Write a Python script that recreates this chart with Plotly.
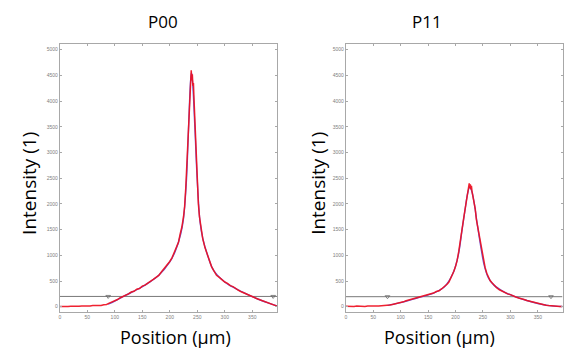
import plotly.graph_objects as go

# ---------------- data ----------------
# P00 measured profile (red)
p00_x = [0,5,10,15,20,25,30,35,40,45,50,55,60,65,70,75,80,85,90,95,100,105,110,115,120,125,130,135,140,145,
         150,155,160,165,170,175,180,185,190,195,200,204,208,212,216,219,222,225,227,229,231,233,235,236,237,
         238,239,240,241,242,243,244,245,246,248,250,252,254,257,260,264,268,272,276,280,285,290,295,300,305,
         310,315,320,325,330,335,340,345,350,355,360,365,370,375,380,385,390,395]
p00_y = [5,2,8,4,10,6,12,9,15,11,18,14,22,18,26,24,38,45,70,90,125,140,175,195,230,250,285,300,340,355,
         400,420,460,490,530,570,610,680,740,800,880,950,1050,1150,1260,1420,1550,1750,1950,2300,2750,3200,3700,4000,4250,
         4450,4600,4400,4520,4300,4350,4050,3800,3500,2900,2400,2000,1750,1500,1320,1150,1020,880,780,700,610,570,520,480,455,
         410,390,350,320,290,270,245,225,200,175,150,130,110,90,70,50,30,12]
# P00 fit (blue)
p00_fit_x = [88,100,120,140,160,180,200,210,220,225,230,233,236,238,239.5,241,243,246,250,255,260,270,280,300,320,340,360,380,395]
p00_fit_y = [50,110,225,330,455,610,870,1080,1420,1720,2400,3150,4000,4420,4550,4420,4100,3400,2450,1650,1330,960,700,480,350,245,150,70,15]
# P00 background level (black)
p00_bg_x = [0, 88, 200, 388, 395]
p00_bg_y = [200, 200, 200, 200, 200]
p00_mark_x = [88, 388]

# P11 measured profile (red)
p11_x = [0,5,10,15,20,25,30,35,40,45,50,55,60,65,70,75,80,85,90,95,100,105,110,115,120,125,130,135,140,145,
         150,155,160,165,170,175,180,185,188,191,194,197,200,203,206,209,212,215,218,220,222,224,225,226,227,
         228,229,230,232,234,236,238,240,242,245,248,251,254,257,260,263,266,270,275,280,285,290,295,300,305,
         310,315,320,325,330,335,340,345,350,355,360,365,370,375,380,385,390,395]
p11_y = [8,3,10,5,12,7,10,6,12,9,10,14,12,18,20,26,32,45,55,68,80,95,115,130,140,160,170,185,195,215,
         225,250,265,295,310,350,390,440,480,540,600,690,780,900,1080,1330,1520,1730,1930,2080,2200,2330,2400,2300,2380,
         2280,2350,2250,2150,2000,1900,1700,1580,1450,1300,1050,880,760,650,560,510,470,420,370,330,300,280,250,235,205,
         190,170,160,140,120,105,90,75,62,50,40,30,22,15,10,6,4,3]
# P11 fit (blue)
p11_fit_x = [76,100,130,160,180,195,205,212,218,222,226,230,234,240,246,252,260,270,290,310,330,350,370,395]
p11_fit_y = [25,80,170,265,390,640,1000,1500,1930,2200,2330,2230,2020,1580,1170,820,560,420,280,190,120,62,22,3]
# P11 background level (black)
p11_bg_x = [0, 76, 200, 374, 395]
p11_bg_y = [195, 195, 195, 195, 195]
p11_mark_x = [76, 374]

titles = ["P00", "P11"]
x_ticks = [0, 50, 100, 150, 200, 250, 300, 350]
y_ticks = [0, 500, 1000, 1500, 2000, 2500, 3000, 3500, 4000, 4500, 5000]

# ---------------- figure ----------------
W, H = 564, 351
fig = go.Figure()

RED = "#ee1020"
BLUE = "#6a5cd8"
BG = "#6a6a6a"

def add_panel(xa, ya, bgx, bgy, markx, mx, my, fx, fy):
    fig.add_trace(go.Scatter(x=bgx, y=bgy, mode="lines", xaxis=xa, yaxis=ya,
                             line=dict(color=BG, width=0.9), showlegend=False))
    fig.add_trace(go.Scatter(x=markx, y=[bgy[0]] * len(markx), mode="markers", xaxis=xa, yaxis=ya,
                             marker=dict(symbol="triangle-down-open", size=4, color=BG, line=dict(width=0.8)),
                             showlegend=False))
    fig.add_trace(go.Scatter(x=fx, y=fy, mode="lines", xaxis=xa, yaxis=ya, line_shape="spline",
                             line=dict(color=BLUE, width=1.4), showlegend=False))
    fig.add_trace(go.Scatter(x=mx, y=my, mode="lines", xaxis=xa, yaxis=ya,
                             line=dict(color=RED, width=1.5), opacity=0.92, showlegend=False))

add_panel("x", "y", p00_bg_x, p00_bg_y, p00_mark_x, p00_x, p00_y, p00_fit_x, p00_fit_y)
add_panel("x2", "y2", p11_bg_x, p11_bg_y, p11_mark_x, p11_x, p11_y, p11_fit_x, p11_fit_y)

ybot = 1 - 311.7 / H
ytop = 1 - 44 / H

axis_common = dict(showgrid=False, zeroline=False, showline=True, linecolor="#a8a8a8", linewidth=1,
                   mirror="allticks", ticks="inside", ticklen=2, tickcolor="#a8a8a8",
                   tickfont=dict(size=5, color="#808080", family="Arial"))

fig.update_layout(
    width=W, height=H, margin=dict(l=0, r=0, t=0, b=0),
    paper_bgcolor="white", plot_bgcolor="white",
    xaxis=dict(domain=[59 / W, 277 / W], range=[0, 395], tickvals=x_ticks, anchor="y", **axis_common),
    yaxis=dict(domain=[ybot, ytop], range=[-97, 5110], tickvals=y_ticks, anchor="x", **axis_common),
    xaxis2=dict(domain=[346 / W, 563.5 / W], range=[0, 395], tickvals=x_ticks, anchor="y2", **axis_common),
    yaxis2=dict(domain=[ybot, ytop], range=[-97, 5110], tickvals=y_ticks, anchor="x2", **axis_common),
)

font_main = "Open Sans"
ann = []
for cx, t in [(163, titles[0]), (428, titles[1])]:
    ann.append(dict(text=t, x=cx / W, y=1 - 21 / H, xref="paper", yref="paper", showarrow=False,
                    font=dict(size=17, family=font_main, color="black"), xanchor="center", yanchor="middle"))
for cx in [28, 318]:
    ann.append(dict(text="Intensity (1)", x=cx / W, y=1 - 183 / H, xref="paper", yref="paper", showarrow=False,
                    textangle=-90, font=dict(size=19, family=font_main, color="black"),
                    xanchor="center", yanchor="middle"))
for cx in [175, 440]:
    ann.append(dict(text="Position (µm)", x=cx / W, y=1 - 337 / H, xref="paper", yref="paper", showarrow=False,
                    font=dict(size=18, family=font_main, color="black"), xanchor="center", yanchor="middle"))
fig.update_layout(annotations=ann)

fig.write_html("out.html")
